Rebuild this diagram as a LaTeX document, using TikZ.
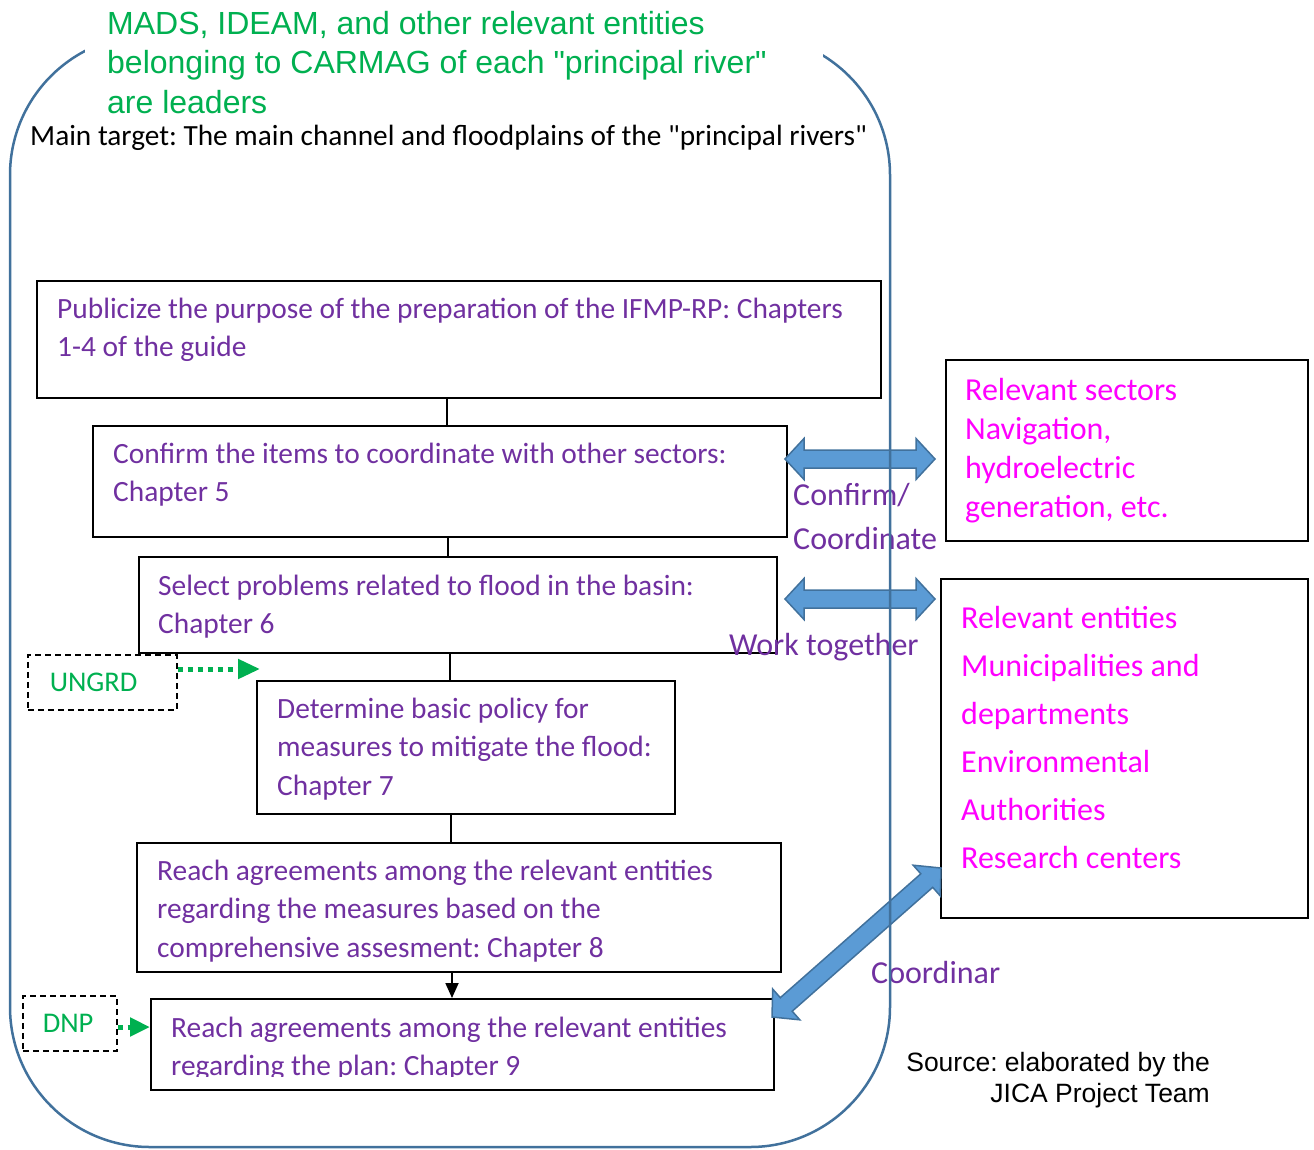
\documentclass[tikz,border=0pt]{standalone}
\usepackage{fontspec}
\setmainfont{Carlito}[Ligatures=TeXOff]
\newfontfamily\arialfont{Liberation Sans}[Ligatures=TeXOff]
\usetikzlibrary{arrows.meta,positioning,calc}

\definecolor{frameblue}{RGB}{65,113,156}
\definecolor{arrowblue}{RGB}{91,155,213}
\definecolor{stepviolet}{RGB}{112,48,160}
\definecolor{leadgreen}{RGB}{0,176,80}
\definecolor{sectorpink}{RGB}{255,0,255}

% broad two-headed arrow between two named points
\newcommand\widearrow[2]{%
  \coordinate (wa1) at ($(#1)!19pt!(#2)$);
  \coordinate (wa2) at ($(#2)!19pt!(#1)$);
  \draw[fatarrow] (#1) -- ($(wa1)!20.5pt!90:(#2)$) -- ($(wa1)!9pt!90:(#2)$)
    -- ($(wa2)!9pt!-90:(#1)$) -- ($(wa2)!20.5pt!-90:(#1)$) -- (#2)
    -- ($(wa2)!20.5pt!90:(#1)$) -- ($(wa2)!9pt!90:(#1)$)
    -- ($(wa1)!9pt!-90:(#2)$) -- ($(wa1)!20.5pt!-90:(#2)$) -- cycle;}

\begin{document}
\frenchspacing
\begin{tikzpicture}[
  x=1pt, y=-1pt,
  stepbox/.style={draw, line width=1.8pt, anchor=north west, inner sep=0pt},
  steptext/.style={anchor=base west, text width=820pt, align=flush left, inner sep=0pt, text=stepviolet, font=\fontsize{29.4}{38.5}\selectfont},
  sectortext/.style={anchor=base west, text width=340pt, align=flush left, inner sep=0pt, text=sectorpink},
  agency/.style={draw, dash pattern=on 6pt off 4pt, line width=1.5pt, anchor=north west, inner ysep=0pt, align=flush left, text=leadgreen, font=\fontsize{28.5}{30}\selectfont},
  fatarrow/.style={draw=frameblue, fill=arrowblue, line width=1.5pt, line join=miter},
  linklabel/.style={anchor=base west, text width=200pt, align=flush left, inner sep=0pt, text=stepviolet, font=\fontsize{32}{44}\selectfont},
  spine/.style={line width=1.8pt},
  hint/.style={leadgreen, line width=5pt, dash pattern=on 5pt off 5pt},
  frameline/.style={draw=frameblue, line width=2.5pt, rounded corners=140pt}
]
\useasboundingbox (0,0) rectangle (1314,1149);

\node[stepbox, minimum width=844pt, minimum height=117pt] (b1) at (36,280) {};
\node[steptext] (t1) at ($(b1.north west)+(21,38)$) {Publicize the purpose of the preparation of the IFMP-RP: Chapters\\1-4 of the guide};
\node[stepbox, minimum width=694pt, minimum height=111pt] (b2) at (92,425) {};
\node[steptext] (t2) at ($(b2.north west)+(21,38)$) {Confirm the items to coordinate with other sectors:\\Chapter 5};
\node[stepbox, minimum width=638pt, minimum height=96pt] (b3) at (138,556) {};
\node[steptext] (t3) at ($(b3.north west)+(20,39)$) {Select problems related to flood in the basin:\\Chapter 6};
\node[stepbox, minimum width=418pt, minimum height=133pt] (b4) at (256,680) {};
\node[steptext] (t4) at ($(b4.north west)+(21,38)$) {Determine basic policy for\\measures to mitigate the flood:\\Chapter 7};
\node[stepbox, minimum width=644pt, minimum height=129pt] (b5) at (136,842) {};
\node[steptext] (t5) at ($(b5.north west)+(21,38)$) {Reach agreements among the relevant entities\\regarding the measures based on the\\comprehensive assesment: Chapter 8};
\node[stepbox, minimum width=623pt, minimum height=91pt] (b6) at (150,998) {};
\begin{scope}
  \clip (b6.north west) rectangle ([yshift=-78pt]b6.north east);
  \node[steptext] (t6) at ($(b6.north west)+(21,39)$) {Reach agreements among the relevant entities\\regarding the plan: Chapter 9};
\end{scope}

\foreach \a/\b/\x in {b1/b2/447,b2/b3/448,b3/b4/450,b4/b5/451}
  \draw[spine] (\a.south -| \x,0) -- (\b.north -| \x,0);
\draw[spine, -{Triangle[length=15pt,width=13pt]}] (b5.south -| 452,0) -- (b6.north -| 452,0);

\node[agency, minimum width=149pt, minimum height=55pt, inner xsep=22pt, text width=105pt] (ungrd) at (27,654) {UNGRD};
\node[agency, minimum width=94pt, minimum height=55pt, inner xsep=20pt, text width=54pt] (dnp) at (22,995) {DNP};
\coordinate (ungrdtip) at (260,669);
\draw[hint, -{Triangle[length=22pt,width=19pt]}] (ungrd.east |- 0,669) -- (ungrdtip);
\draw[hint, -{Triangle[length=20pt,width=18pt]}] (dnp.east |- 0,1027) -- (b6.west |- 0,1027);

\node[stepbox, minimum width=362pt, minimum height=181pt] (r1) at (945,359) {};
\node[sectortext, font=\fontsize{32}{39}\selectfont] (s1) at ($(r1.north west)+(20,41)$) {Relevant sectors\\Navigation,\\hydroelectric\\generation, etc.};
\node[stepbox, minimum width=367pt, minimum height=339pt] (r2) at (940,578) {};
\node[sectortext, font=\fontsize{32}{48}\selectfont] (s2) at ($(r2.north west)+(21,50)$) {Relevant entities\\Municipalities and\\departments\\Environmental\\Authorities\\Research centers};

\coordinate (confirmL) at (785,459);
\coordinate (confirmR) at (935,459);
\coordinate (togetherL) at (785,599);
\coordinate (togetherR) at (935,599);
\coordinate (agreeL) at (772,1017);
\coordinate (agreeR) at (941,868);
\widearrow{confirmL}{confirmR}
\widearrow{togetherL}{togetherR}
\widearrow{agreeL}{agreeR}

\node[linklabel] (confirmlabel) at (793,505) {Confirm/\\Coordinate};
\node[linklabel] (worklabel) at (729,655) {Work together};
\node[linklabel] (coordlabel) at (871,983) {Coordinar};

\draw[frameline] (10,35) rectangle (890,1147);

\node[anchor=base west, text width=694pt, align=flush left, fill=white, inner xsep=22pt, inner ysep=4pt, text=leadgreen, font=\arialfont\fontsize{32}{39.5}\selectfont] (lead) at (85,34) {MADS, IDEAM, and other relevant entities\\belonging to CARMAG of each "principal river"\\are leaders};
\node[anchor=base west, inner sep=0pt, font=\fontsize{29.3}{35}\selectfont] (target) at (30,145) {Main target: The main channel and floodplains of the "principal rivers"};
\node[anchor=base east, text width=330pt, align=flush right, inner sep=0pt, font=\arialfont\fontsize{26.5}{31}\selectfont] (source) at (1210,1071) {Source: elaborated by the\\JICA Project Team};
\end{tikzpicture}
\end{document}
